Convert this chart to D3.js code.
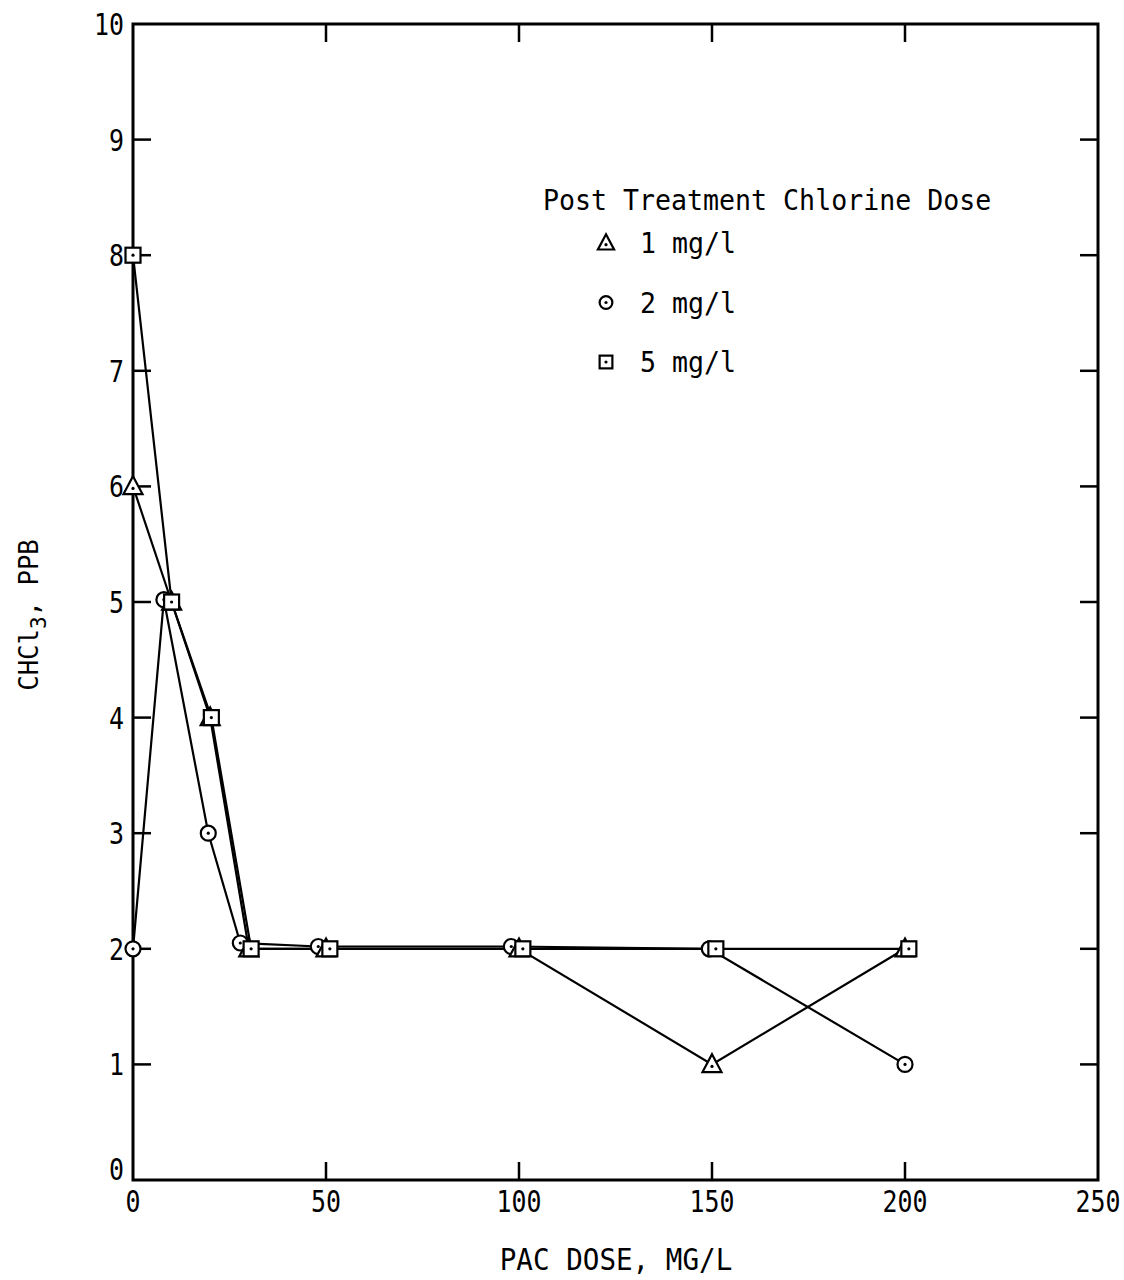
<!DOCTYPE html>
<html><head><meta charset="utf-8">
<script src="https://cdn.jsdelivr.net/npm/d3@7"></script>
<style>body{margin:0;background:#fff}</style>
</head><body>
<svg id="c" width="1124" height="1280"></svg>
<script>
const xTicks = [0, 50, 100, 150, 200, 250];
const yTicks = [0,1,2,3,4,5,6,7,8,9,10];
const tri = [[0,6],[10,5],[20,4],[30,2],[50,2],[100,2],[150,1],[200,2]];
const circ = [[0,2],[8,5.02],[19.5,3],[27.8,2.05],[48,2.02],[98,2.02],[149.3,2],[200,1]];
const sq = [[0,8],[10,5],[20.3,4],[30.6,2],[51,2],[101,2],[151,2],[201,2]];
const legendLabels = ["1 mg/l","2 mg/l","5 mg/l"];
const legendTitle = "Post Treatment Chlorine Dose";
const xTitle = "PAC DOSE, MG/L";

const svg = d3.select("#c");
const font = "'DejaVu Sans Mono', monospace";
const x = d3.scaleLinear().domain([0,250]).range([133,1098]);
const y = d3.scaleLinear().domain([0,10]).range([1180,24]);

function txt(px, py, size, sx, anchor, s){
  return svg.append("text").attr("transform",`translate(${px},${py}) scale(${sx},1)`)
    .attr("text-anchor",anchor).attr("font-family",font).attr("font-size",size).text(s);
}

// frame
svg.append("rect").attr("x",x(0)).attr("y",y(10)).attr("width",x(250)-x(0)).attr("height",y(0)-y(10))
  .attr("fill","none").attr("stroke","#000").attr("stroke-width",3);

// ticks inward on all sides
const tl = 18;
xTicks.slice(1,-1).forEach(v=>{
  svg.append("line").attr("x1",x(v)).attr("x2",x(v)).attr("y1",y(0)).attr("y2",y(0)-tl).attr("stroke","#000").attr("stroke-width",2.5);
  svg.append("line").attr("x1",x(v)).attr("x2",x(v)).attr("y1",y(10)).attr("y2",y(10)+tl).attr("stroke","#000").attr("stroke-width",2.5);
});
yTicks.slice(1,-1).forEach(v=>{
  svg.append("line").attr("x1",x(0)).attr("x2",x(0)+tl).attr("y1",y(v)).attr("y2",y(v)).attr("stroke","#000").attr("stroke-width",2.5);
  svg.append("line").attr("x1",x(250)).attr("x2",x(250)-tl).attr("y1",y(v)).attr("y2",y(v)).attr("stroke","#000").attr("stroke-width",2.5);
});
// tick labels
xTicks.forEach(v=>{ txt(x(v), 1212, 30, 0.83, "middle", v); });
yTicks.forEach(v=>{ txt(124, y(v) + 11 - (v===0 ? 11 : 0), 30, 0.83, "end", v); });

// axis titles
txt(616, 1270, 30, 0.92, "middle", xTitle);
const yl = svg.append("text").attr("transform","translate(38,615) rotate(-90) scale(0.95,1)").attr("text-anchor","middle")
  .attr("font-family",font).attr("font-size",27);
yl.append("tspan").text("CHCl");
yl.append("tspan").attr("dy",8).attr("font-size",22).text("3");
yl.append("tspan").attr("dy",-8).text(", PPB");

// lines
const line = d3.line().x(d=>x(d[0])).y(d=>y(d[1]));
[tri,circ,sq].forEach(s=>{
  svg.append("path").attr("d",line(s)).attr("fill","none").attr("stroke","#000").attr("stroke-width",2.2);
});

function drawMarker(g, type, cx, cy, s){
  const sw = 2.2;
  if(type==="circle"){
    g.append("circle").attr("cx",cx).attr("cy",cy).attr("r",7.5*s).attr("fill","#fff").attr("stroke","#000").attr("stroke-width",sw);
    g.append("circle").attr("cx",cx).attr("cy",cy).attr("r",1.6).attr("fill","#000");
  } else if(type==="tri"){
    const w=9.5*s, h=17*s;
    g.append("path").attr("d",`M${cx},${cy-h*0.6}L${cx+w},${cy+h*0.45}L${cx-w},${cy+h*0.45}Z`)
      .attr("fill","#fff").attr("stroke","#000").attr("stroke-width",sw);
    g.append("circle").attr("cx",cx).attr("cy",cy+2*s).attr("r",1.6).attr("fill","#000");
  } else {
    const a=7.5*s;
    g.append("rect").attr("x",cx-a).attr("y",cy-a).attr("width",2*a).attr("height",2*a)
      .attr("fill","#fff").attr("stroke","#000").attr("stroke-width",sw);
    g.append("circle").attr("cx",cx).attr("cy",cy).attr("r",1.6).attr("fill","#000");
  }
}
const mg = svg.append("g");
circ.forEach(d=>drawMarker(mg,"circle",x(d[0]),y(d[1]),1));
tri.forEach(d=>drawMarker(mg,"tri",x(d[0]),y(d[1]),1));
sq.forEach(d=>drawMarker(mg,"square",x(d[0]),y(d[1]),1));

// legend
txt(543, 210, 28, 0.95, "start", legendTitle);
const types=["tri","circle","square"];
legendLabels.forEach((t,i)=>{
  const yy = 243 + i*59.5;
  drawMarker(svg,types[i],606,yy,0.85);
  txt(640, yy+10, 28, 0.95, "start", t);
});
</script>
</body></html>
